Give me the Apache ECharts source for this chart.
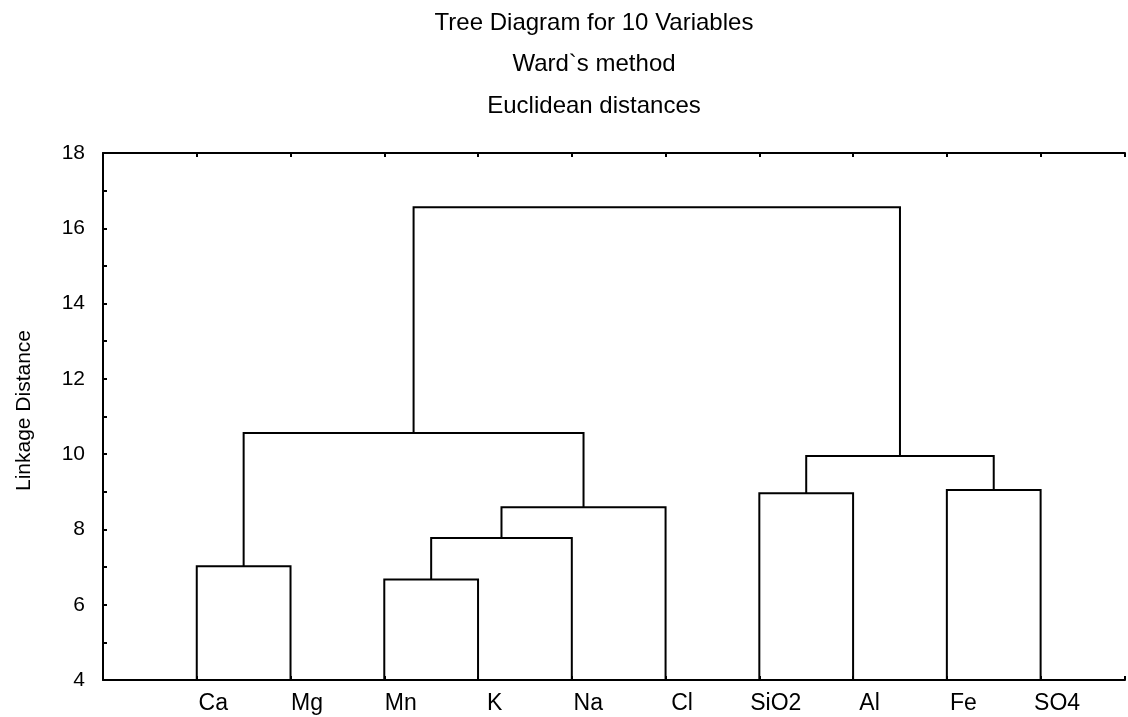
<!DOCTYPE html>
<html>
<head>
<meta charset="utf-8">
<script src="https://cdn.jsdelivr.net/npm/echarts@6/dist/echarts.min.js"></script>
<style>
  html, body { margin: 0; padding: 0; background: #fff; }
  #chart { width: 1128px; height: 717px; }
</style>
</head>
<body>
<div id="chart"></div>
<script>
// Variables in dendrogram leaf order
const variables = ['Ca', 'Mg', 'Mn', 'K', 'Na', 'Cl', 'SiO2', 'Al', 'Fe', 'SO4'];

// Agglomeration schedule: ids 0-9 are variables, id 10+k is the cluster formed at step k
const mergeLeft   = [2, 0, 10, 12, 6, 8, 14, 11, 17];
const mergeRight  = [3, 1, 4, 5, 7, 9, 15, 13, 16];
const mergeHeight = [6.67, 7.02, 7.77, 8.59, 8.96, 9.05, 9.95, 10.56, 16.56];

// Linkage distance axis
const yMin = 4;
const yMax = 18;
const yStep = 2;

const titleLines = ['Tree Diagram for 10 Variables', 'Ward`s method', 'Euclidean distances'];
const yAxisTitle = 'Linkage Distance';

// Node positions: leaves sit at 1..n on the x axis, clusters at the mean of their two children
const nodeX = variables.map((_, i) => i + 1);
const nodeY = variables.map(() => yMin);
const links = [];
mergeHeight.forEach((h, k) => {
  const l = mergeLeft[k], r = mergeRight[k];
  links.push([nodeX[l], nodeY[l], nodeX[r], nodeY[r], h]);
  nodeX.push((nodeX[l] + nodeX[r]) / 2);
  nodeY.push(h);
});

const FONT = '"Liberation Sans", Arial, Helvetica, sans-serif';
const INK = '#000';
// The horizontal scale runs one unit past the last variable; the frame is cut by the page edge
const X_MAX = 10.9;

const chart = echarts.init(document.getElementById('chart'), null, { renderer: 'canvas' });

chart.setOption({
  backgroundColor: '#fff',
  animation: false,
  title: titleLines.map((t, i) => ({
    text: t,
    left: 594,
    top: 11 + i * 41.5,
    textAlign: 'center',
    padding: 0,
    textStyle: { fontFamily: FONT, fontSize: 24, fontWeight: 'normal', color: INK }
  })),
  grid: { left: 103, right: 0, top: 153, bottom: 37, containLabel: false },
  xAxis: [
    {
      type: 'value',
      position: 'bottom',
      min: 0,
      max: X_MAX,
      interval: 1,
      splitLine: { show: false },
      axisLine: { show: true, onZero: false, lineStyle: { color: INK, width: 2 } },
      axisTick: { show: true, inside: true, length: 4, lineStyle: { color: INK, width: 2 } },
      axisLabel: {
        margin: 12,
        color: INK,
        fontFamily: FONT,
        fontSize: 23,
        padding: [0, 0, 0, 33],
        showMinLabel: true,
        showMaxLabel: true,
        formatter: v => (Number.isInteger(v) && v >= 1 && v <= variables.length) ? variables[v - 1] : ''
      }
    },
    {
      type: 'value',
      position: 'top',
      min: 0,
      max: X_MAX,
      interval: 1,
      splitLine: { show: false },
      axisLine: { show: true, onZero: false, lineStyle: { color: INK, width: 2 } },
      axisTick: { show: true, inside: true, length: 4, lineStyle: { color: INK, width: 2 } },
      axisLabel: { show: false }
    }
  ],
  yAxis: {
    type: 'value',
    min: yMin,
    max: yMax,
    interval: yStep,
    name: yAxisTitle,
    nameLocation: 'middle',
    nameGap: 68,
    nameTextStyle: { fontFamily: FONT, fontSize: 21, color: INK, padding: [0, 0, 0, 12] },
    splitLine: { show: false },
    axisLine: { show: true, onZero: false, lineStyle: { color: INK, width: 2 } },
    axisTick: { show: true, inside: true, length: 4, lineStyle: { color: INK, width: 2 } },
    minorTick: { show: true, splitNumber: 2, length: 4, lineStyle: { color: INK, width: 2 } },
    axisLabel: { margin: 18, color: INK, fontFamily: FONT, fontSize: 21 }
  },
  series: [{
    type: 'custom',
    xAxisIndex: 0,
    yAxisIndex: 0,
    clip: false,
    silent: true,
    encode: { x: [0, 2], y: [1, 3, 4] },
    data: links,
    renderItem: (params, api) => {
      const xl = api.value(0), yl = api.value(1), xr = api.value(2), yr = api.value(3), h = api.value(4);
      return {
        type: 'polyline',
        shape: { points: [api.coord([xl, yl]), api.coord([xl, h]), api.coord([xr, h]), api.coord([xr, yr])] },
        style: { stroke: INK, lineWidth: 2, fill: null }
      };
    }
  }]
});
</script>
</body>
</html>
